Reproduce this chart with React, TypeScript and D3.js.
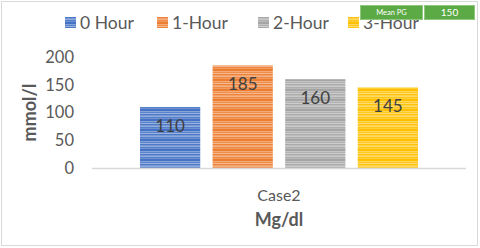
import React, { useEffect, useRef } from "react";
import { select, scaleBand, scaleLinear } from "d3";

const series = ["0 Hour", "1-Hour", "2-Hour", "3-Hour"];
const values = [110, 185, 160, 145];
const colors = ["#4472C4", "#ED7D31", "#A5A5A5", "#FFC000"];
const category = "Case2";
const yTicks = [0, 50, 100, 150, 200];
const stripes = [0, 0.35, 0.12, 0.45, 0.05, 0.28, 0.4, 0.1, 0.22, 0.0];

const FONT = "Lato, 'Open Sans', sans-serif";

export default function App() {
  const svgRef = useRef<SVGSVGElement>(null);

  useEffect(() => {
    const W = 480;
    const H = 248;
    const svg = select(svgRef.current);
    svg.selectAll("*").remove();
    svg.attr("width", W).attr("height", H);

    // stripe patterns
    const defs = svg.append("defs");
    colors.forEach((c, i) => {
      const p = defs
        .append("pattern")
        .attr("id", `stripe${i}`)
        .attr("patternUnits", "userSpaceOnUse")
        .attr("width", 4)
        .attr("height", stripes.length);
      p.append("rect").attr("width", 4).attr("height", stripes.length).attr("fill", c);
      stripes.forEach((o, j) => {
        p.append("rect")
          .attr("y", j)
          .attr("width", 4)
          .attr("height", 1)
          .attr("fill", "#fff")
          .attr("opacity", o);
      });
    });

    // frame
    svg.append("rect")
      .attr("x", 1.5).attr("y", 1.5)
      .attr("width", W - 4).attr("height", H - 4)
      .attr("fill", "#fff").attr("stroke", "#d9d9d9");

    const left = 92, right = 466, top = 57, bottom = 168;

    const x0 = scaleBand().domain([category]).range([left, right]);
    const x1 = scaleBand().domain(series).range([140, 418]).paddingInner(0.17);
    const y = scaleLinear().domain([0, 200]).range([bottom, top]);

    // y tick labels
    svg.append("g")
      .selectAll("text")
      .data(yTicks)
      .join("text")
      .attr("x", 74)
      .attr("y", (d) => y(d))
      .attr("dy", "0.35em")
      .attr("text-anchor", "end")
      .attr("font-family", FONT)
      .attr("font-size", 16.5)
      .attr("fill", "#595959")
      .text((d) => d);

    // bars
    svg.append("g")
      .selectAll("rect")
      .data(values)
      .join("rect")
      .attr("x", (d, i) => x1(series[i])!)
      .attr("y", (d) => y(d))
      .attr("width", x1.bandwidth())
      .attr("height", (d) => bottom - y(d))
      .attr("fill", (d, i) => `url(#stripe${i})`);

    // baseline
    svg.append("line")
      .attr("x1", left).attr("x2", right)
      .attr("y1", bottom + 0.5).attr("y2", bottom + 0.5)
      .attr("stroke", "#d9d9d9").attr("stroke-width", 1.5);

    // data labels
    svg.append("g")
      .selectAll("text")
      .data(values)
      .join("text")
      .attr("x", (d, i) => x1(series[i])! + x1.bandwidth() / 2)
      .attr("y", (d) => y(d) + 19)
      .attr("dy", "0.35em")
      .attr("text-anchor", "middle")
      .attr("font-family", FONT)
      .attr("font-size", 17)
      .attr("fill", "#404040")
      .text((d) => d);

    // category label
    svg.append("text")
      .attr("x", x0(category)! + x0.bandwidth() / 2)
      .attr("y", 195)
      .attr("dy", "0.35em")
      .attr("text-anchor", "middle")
      .attr("font-family", FONT)
      .attr("font-size", 16)
      .attr("fill", "#595959")
      .text(category);

    // axis titles
    svg.append("text")
      .attr("x", x0(category)! + x0.bandwidth() / 2)
      .attr("y", 220)
      .attr("dy", "0.35em")
      .attr("text-anchor", "middle")
      .attr("font-family", FONT)
      .attr("font-size", 18)
      .attr("font-weight", "bold")
      .attr("fill", "#595959")
      .text("Mg/dl");

    svg.append("text")
      .attr("transform", `translate(30, ${(top + bottom) / 2}) rotate(-90)`)
      .attr("dy", "0.35em")
      .attr("text-anchor", "middle")
      .attr("font-family", FONT)
      .attr("font-size", 18)
      .attr("font-weight", "bold")
      .attr("fill", "#595959")
      .text("mmol/l");

    // legend
    const legendX = [65, 157, 258, 348];
    const lg = svg.append("g")
      .selectAll("g")
      .data(series)
      .join("g")
      .attr("transform", (d, i) => `translate(${legendX[i]}, 23)`);
    lg.append("rect")
      .attr("x", 0).attr("y", -6)
      .attr("width", 11).attr("height", 11)
      .attr("fill", (d, i) => `url(#stripe${i})`);
    lg.append("text")
      .attr("x", 15)
      .attr("dy", "0.35em")
      .attr("font-family", FONT)
      .attr("font-size", 17.5)
      .attr("fill", "#595959")
      .text((d) => d);

    // Mean PG badge
    const badge = svg.append("g");
    badge.append("rect")
      .attr("x", 360.5).attr("y", 5.5).attr("width", 62).attr("height", 14)
      .attr("fill", "#5BAA45").attr("stroke", "#8fc87c");
    badge.append("rect")
      .attr("x", 424.5).attr("y", 5.5).attr("width", 50).attr("height", 14)
      .attr("fill", "#5BAA45").attr("stroke", "#8fc87c");
    badge.append("text")
      .attr("x", 391.5).attr("y", 12.5).attr("dy", "0.35em")
      .attr("text-anchor", "middle")
      .attr("font-family", FONT).attr("font-size", 7.5)
      .attr("fill", "#fff").text("Mean PG");
    badge.append("text")
      .attr("x", 449.5).attr("y", 12.5).attr("dy", "0.35em")
      .attr("text-anchor", "middle")
      .attr("font-family", FONT).attr("font-size", 10)
      .attr("fill", "#fff").text("150");
  }, []);

  return (
    <svg ref={svgRef} style={{ position: "absolute", left: 0, top: 0 }}></svg>
  );
}
